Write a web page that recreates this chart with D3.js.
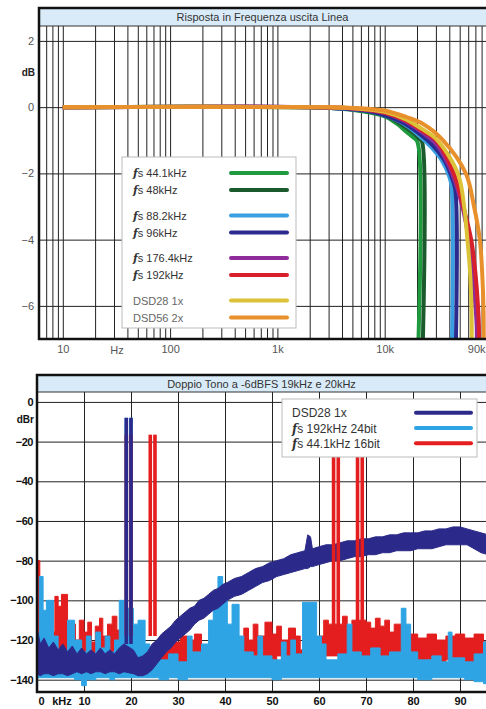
<!DOCTYPE html>
<html>
<head>
<meta charset="utf-8">
<script src="https://cdn.jsdelivr.net/npm/d3@7"></script>
<style>
  body { margin: 0; background: #fff; }
  svg text { font-family: "Liberation Sans", Arial, sans-serif; }
</style>
</head>
<body>
<div id="chart"></div>
<script>
// ---------------- data : frequency response (Hz, dB) ----------------
const fs441  = [[10,0],[2000,0],[3500,-0.03],[6000,-0.12],[10000,-0.28],[13000,-0.5],[16000,-0.75],[18500,-0.92],[20200,-1.05],[20200,-8]];
const fs48   = [[10,0],[2000,0],[3500,-0.03],[6000,-0.1],[10000,-0.25],[14000,-0.5],[18000,-0.75],[21000,-0.95],[22300,-1.05],[22300,-8]];
const fs882  = [[10,0],[2000,0],[4000,-0.04],[7000,-0.12],[10000,-0.25],[15000,-0.5],[20000,-0.8],[27000,-1.2],[34000,-1.6],[40000,-2.1],[42000,-2.4],[42000,-8]];
const fs96   = [[10,0],[2000,0],[4000,-0.04],[7000,-0.12],[10000,-0.25],[15000,-0.48],[20000,-0.75],[28000,-1.15],[36000,-1.6],[42000,-2.1],[45500,-2.5],[45500,-8]];
const fs1764 = [[10,0],[2500,0],[5000,-0.04],[10000,-0.18],[16000,-0.45],[22000,-0.75],[30000,-1.1],[40000,-1.8],[50000,-2.7],[58000,-3.6],[65000,-4.8],[70000,-6],[72000,-6.6],[72000,-8]];
const fs192  = [[10,0],[2500,0],[5000,-0.04],[10000,-0.17],[16000,-0.42],[22000,-0.7],[30000,-1.0],[44000,-2],[54000,-3],[64000,-4],[70000,-5],[74000,-6],[75500,-6.6],[75500,-8]];
const dsd28  = [[10,0],[2500,0],[5000,-0.03],[10000,-0.14],[16000,-0.38],[22000,-0.65],[30000,-0.95],[48000,-2],[55000,-3],[59000,-4],[62500,-5],[64500,-6.2],[64500,-8]];
const dsd56  = [[10,0],[3000,0],[6000,-0.03],[10000,-0.1],[16000,-0.3],[22600,-0.5],[35000,-1],[57000,-2],[68000,-3],[77000,-4],[81000,-5],[83500,-6.2],[83500,-8]];

const topSeries = [fs441, fs48, fs882, fs96, fs1764, fs192, dsd28, dsd56];
const topLabels = ["44.1kHz", "48kHz", "88.2kHz", "96kHz", "176.4kHz", "192kHz", "DSD28  1x", "DSD56  2x"];
const topColors = ["#1f9a3e", "#1b5a2c", "#3a9fe0", "#2b2b8e", "#8e2c9c", "#d8202c", "#dcc236", "#e8902c"];

const topYTicks = [2, 0, -2, -4, -6];
const topXTicks = [10, 100, 1000, 10000, 90000];
const topXLabels = ["10", "100", "1k", "10k", "90k"];

// ---------------- data : two tone spectrum (kHz, dB top, dB bottom) ----------------
const redBand = [[0,-80,-128],[0.6,-112,-128],[1.2,-118,-130],[2,-122,-132],[3,-116,-130],[3.8,-98,-128],[4.5,-103,-128],[5.2,-97,-128],[6.5,-118,-130],
  [7.5,-112,-130],[8.2,-120,-132],[9,-110,-130],[10,-116,-130],[10.8,-111,-128],[11.6,-121,-130],[12.4,-113,-130],[13.3,-109,-128],[14,-118,-130],
  [15,-112,-130],[16,-108,-128],[17,-115,-130],[18,-121,-132],[19,-125,-134],[23,-124,-134],[25.6,-122,-132],[26.5,-124,-134],[27.5,-117,-132],
  [29,-121,-134],[30.5,-118,-132],[32,-120,-134],[33.5,-117,-132],[35,-124,-134],[37,-128,-134],[40,-122,-134],[42,-126,-134],[44,-114,-130],
  [45,-120,-130],[46,-112,-130],[47,-118,-130],[48.5,-111,-128],[50,-117,-130],[51,-113,-128],[52,-120,-130],[53.5,-114,-128],[55,-118,-130],
  [56,-125,-132],[60,-118,-130],[61,-110,-128],[62,-112,-128],[65,-108,-128],[66,-115,-130],[67,-110,-128],[70,-111,-128],[71,-114,-130],
  [72,-109,-128],[73,-113,-130],[74,-110,-128],[75,-116,-130],[76,-112,-128],[77.5,-120,-132],[79.5,-117,-130],[81,-119,-132],[83,-117,-130],
  [85,-120,-132],[87,-118,-130],[89,-117,-130],[91,-119,-132],[93,-117,-130],[95,-121,-132],[96,-121,-132]];

const blueBand = [[0,-118,-139],[0.5,-88,-139],[1.3,-105,-139],[2,-100,-139],[3.5,-118,-139],[4.5,-128,-139],[6.5,-110,-139],[8,-120,-140],
  [9.5,-126,-143],[10.5,-118,-140],[11.5,-127,-140],[12.5,-116,-139],[13.5,-124,-139],[14.5,-118,-139],[15.5,-126,-140],[16.5,-120,-139],
  [17.5,-100,-139],[19,-104,-139],[20.5,-112,-139],[21.5,-110,-139],[23,-122,-139],[24,-128,-139],[26,-130,-140],[28,-127,-139],[30,-131,-140],
  [32,-118,-139],[33,-126,-139],[35,-122,-139],[36.5,-110,-139],[37.5,-100,-139],[38.5,-88,-139],[39.5,-98,-139],[40.5,-112,-139],[41.5,-102,-139],
  [43,-118,-139],[44,-126,-139],[46,-128,-139],[47,-118,-139],[48,-128,-139],[50,-130,-140],[52,-121,-139],[53,-128,-139],[54,-120,-139],
  [55,-127,-139],[56.5,-101,-139],[59.5,-118,-139],[60.5,-122,-139],[61.5,-130,-139],[64,-127,-139],[66,-112,-139],[67,-126,-139],[69,-128,-139],
  [71,-124,-139],[73,-128,-139],[75,-126,-139],[77.5,-104,-139],[78.5,-112,-139],[79.5,-126,-139],[81,-130,-140],[84,-128,-139],[86,-131,-139],
  [87.5,-116,-139],[88.3,-129,-139],[91,-131,-140],[93,-127,-141],[95,-121,-142],[96,-121,-142]];

const navyBand = [[0,-114,-137],[0.7,-122,-138],[1.5,-119,-137],[2.5,-124,-137],[3.5,-121,-138],[4.5,-125,-137],[5.5,-122,-137],[6.5,-126,-138],
  [7.5,-123,-137],[8.5,-127,-136],[9.5,-124,-137],[10.5,-127,-136],[11.5,-125,-137],[12.5,-127,-136],[13.5,-124,-136],[14.5,-127,-137],
  [15.5,-125,-136],[16.5,-127,-136],[17.5,-124,-137],[18.5,-122,-136],[20.5,-125,-137],[21.5,-129,-138],[22.5,-128,-138],[23.5,-126,-137],
  [24.5,-122,-135],[25.5,-120,-132],[26.5,-117,-129],[27.5,-115,-126],[28.5,-113,-124],[29.5,-110,-121],[30.5,-108,-119],[31.5,-106,-117],
  [32.5,-104,-115],[33.5,-103,-112],[34.5,-100,-110],[35.5,-99,-109],[36.5,-97,-107],[37.5,-95,-105],[38.5,-94,-104],[39.5,-92,-102],
  [40.5,-91,-100],[42,-89,-98],[43.5,-88,-97],[45,-86,-95],[46.5,-84,-93],[48,-83,-91],[49.5,-81,-90],[51,-80,-88],[52.5,-79,-87],[54,-77,-86],
  [55.5,-76,-85],[57,-75,-84],[57.6,-67,-84],[58.2,-68,-83],[58.6,-74,-83],[60,-73,-82],[61.5,-72,-81],[63,-72,-80],[64.5,-71,-80],[66,-70,-79],
  [67.5,-70,-78],[69,-69,-78],[70.5,-69,-77],[72,-68,-77],[73.5,-68,-76],[75,-67,-76],[76.5,-67,-75],[78,-66,-75],[79.5,-66,-75],[81,-66,-74],
  [82.5,-65,-74],[84,-65,-74],[85.5,-64,-73],[87,-64,-72],[88.5,-63,-72],[90,-63,-72],[91.5,-64,-72],[93,-65,-74],[94.5,-66,-76],[96,-67,-77]];

// tones and their images (kHz, dB)
const navyTones = [[19,-8],[20,-8]];
const blueTones = [[19,-8],[20,-8]];
const redTones  = [[19,-16.5],[20,-16.5],[24.1,-16.5],[25.1,-16.5],[63.1,-16.5],[64.1,-16.5],[68.2,-16.5],[69.2,-16.5]];

const botLabels = ["DSD28 1x", "192kHz 24bit", "44.1kHz 16bit"];
const botColors = ["#2b2a8a", "#2fa4e4", "#e41e1e"];
const botYTicks = [0, -20, -40, -60, -80, -100, -120, -140];
const botXTicks = [0, 10, 20, 30, 40, 50, 60, 70, 80, 90];

// ---------------- svg ----------------
const svg = d3.select("#chart").append("svg")
  .attr("width", 486).attr("height", 709);

// "fs" prefix : italic f + s
function fsText(sel, label) {
  if (label.startsWith("DSD")) { sel.text(label); return; }
  sel.append("tspan").attr("font-family", "DejaVu Serif").attr("font-style", "italic")
    .attr("font-weight", "bold").text("f");
  sel.append("tspan").text("s " + label);
}

function frame(g, x0, x1, y0, yTitle, y1, title) {
  g.append("rect").attr("x", x0).attr("y", y0).attr("width", x1 - x0).attr("height", yTitle - y0)
    .attr("fill", "#d9ebf8");
  g.append("line").attr("x1", x0).attr("x2", x1).attr("y1", yTitle).attr("y2", yTitle)
    .attr("stroke", "#333").attr("stroke-width", 1);
  g.append("text").attr("x", (x0 + 486) / 2).attr("y", (y0 + yTitle) / 2 + 4)
    .attr("text-anchor", "middle").attr("font-size", 11).attr("fill", "#333").text(title);
  g.append("rect").attr("x", x0).attr("y", y0).attr("width", x1 - x0).attr("height", y1 - y0)
    .attr("fill", "none").attr("stroke", "#111").attr("stroke-width", 2.5);
}

//-------------------------------------------------------------------
// top chart : Risposta in Frequenza
const pA = {left: 39, right: 492, title: 8, top: 26, bottom: 339};
const xA = d3.scaleLog().domain([6, 100000]).range([pA.left, pA.right]);
const yA = d3.scaleLinear().domain([-7, 2.45]).range([pA.bottom, pA.top]);

const gA = svg.append("g");
gA.append("clipPath").attr("id", "clipA").append("rect")
  .attr("x", pA.left).attr("y", pA.top).attr("width", pA.right - pA.left).attr("height", pA.bottom - pA.top);

// grid 1-2-3..9 per decade
const gridFreqs = [];
[1, 10, 100, 1000, 10000].forEach(d => d3.range(1, 10).forEach(m => {
  if (m * d >= 6) gridFreqs.push(m * d);
}));
gridFreqs.push(100000);

gA.append("g")
  .attr("transform", "translate(0," + pA.bottom + ")")
  .call(d3.axisBottom(xA).tickValues(gridFreqs).tickSize(-(pA.bottom - pA.top)).tickFormat(""))
  .call(g => g.select(".domain").remove())
  .call(g => g.selectAll("line").attr("stroke", "#222").attr("stroke-width", 1));

gA.append("g")
  .attr("transform", "translate(" + pA.left + ",0)")
  .call(d3.axisLeft(yA).tickValues(topYTicks).tickSize(-(pA.right - pA.left)).tickPadding(5))
  .call(g => g.select(".domain").remove())
  .call(g => g.selectAll("line").attr("stroke", "#222").attr("stroke-width", 1))
  .call(g => g.selectAll("text").attr("font-size", 11).attr("fill", "#555").attr("font-family", "Liberation Sans"));

gA.append("text").attr("x", 35).attr("y", 76).attr("text-anchor", "end")
  .attr("font-size", 10).attr("font-weight", "bold").attr("fill", "#222").text("dB");

// x labels (last one pulled inside the window)
gA.append("g")
  .attr("transform", "translate(0," + pA.bottom + ")")
  .call(d3.axisBottom(xA).tickValues(topXTicks).tickSize(0).tickPadding(6)
    .tickFormat((d, i) => topXLabels[i]))
  .call(g => g.select(".domain").remove())
  .call(g => g.selectAll("text").attr("font-size", 11).attr("fill", "#555").attr("font-family", "Liberation Sans")
    .attr("text-anchor", d => d === 90000 ? "end" : "middle")
    .attr("dx", d => d === 90000 ? 485 - xA(90000) : 0));
gA.append("text").attr("x", xA(32)).attr("y", pA.bottom + 15).attr("text-anchor", "middle")
  .attr("font-size", 11).attr("fill", "#555").text("Hz");

// response curves
const lineA = d3.line().x(d => xA(d[0])).y(d => yA(d[1])).curve(d3.curveCatmullRom.alpha(0.5));
gA.append("g").attr("clip-path", "url(#clipA)")
  .selectAll("path").data(topSeries).enter().append("path")
    .attr("fill", "none")
    .attr("stroke", (d, i) => topColors[i])
    .attr("stroke-width", 4)
    .attr("d", lineA);

// legend
const legA = gA.append("g");
legA.append("rect").attr("x", 122).attr("y", 157).attr("width", 174).attr("height", 171)
  .attr("fill", "#fff").attr("stroke", "#bbb");
topLabels.forEach((lab, i) => {
  const y = 173 + i * 17 + Math.floor(i / 2) * 8.5;
  fsText(legA.append("text").attr("x", 133).attr("y", y + 4).attr("font-size", 11)
    .attr("fill", lab.startsWith("DSD") ? "#666" : "#333"), lab);
  legA.append("line").attr("x1", 231).attr("x2", 287).attr("y1", y).attr("y2", y)
    .attr("stroke", topColors[i]).attr("stroke-width", 4).attr("stroke-linecap", "round");
});

frame(gA, pA.left, 500, pA.title, pA.top, pA.bottom, "Risposta in Frequenza uscita Linea");

//-------------------------------------------------------------------
// bottom chart : Doppio Tono
const pB = {left: 37, right: 489, title: 375, top: 392, bottom: 692};
const xB = d3.scaleLinear().domain([0, 96]).range([pB.left, pB.left + 96 * 4.7]);
const yB = d3.scaleLinear().domain([-146.2, 5]).range([pB.bottom, pB.top]);

const gB = svg.append("g");
gB.append("clipPath").attr("id", "clipB").append("rect")
  .attr("x", pB.left).attr("y", pB.top).attr("width", pB.right - pB.left).attr("height", pB.bottom - pB.top);

gB.append("g")
  .attr("transform", "translate(0," + pB.bottom + ")")
  .call(d3.axisBottom(xB).tickValues(botXTicks).tickSize(-(pB.bottom - pB.top)).tickPadding(5))
  .call(g => g.select(".domain").remove())
  .call(g => g.selectAll("line").attr("stroke", "#222"))
  .call(g => g.selectAll("text").attr("font-size", 11).attr("font-weight", "bold").attr("fill", "#111")
    .attr("font-family", "Liberation Sans").attr("dx", d => d === 0 ? 4 : 0));
gB.append("text").attr("x", xB(5.3)).attr("y", pB.bottom + 13).attr("text-anchor", "middle")
  .attr("font-size", 11).attr("font-weight", "bold").attr("fill", "#111").text("kHz");

gB.append("g")
  .attr("transform", "translate(" + pB.left + ",0)")
  .call(d3.axisLeft(yB).tickValues(botYTicks).tickSize(-(pB.right - pB.left)).tickPadding(4))
  .call(g => g.select(".domain").remove())
  .call(g => g.selectAll("line").attr("stroke", "#222"))
  .call(g => g.selectAll("text").attr("font-size", 11).attr("font-weight", "bold").attr("fill", "#111")
    .attr("font-family", "Liberation Sans").attr("letter-spacing", -0.5));
gB.append("text").attr("x", 34).attr("y", 423).attr("text-anchor", "end")
  .attr("font-size", 10).attr("font-weight", "bold").attr("fill", "#111").text("dBr");

const plotB = gB.append("g").attr("clip-path", "url(#clipB)");

function band(data, color, curve) {
  plotB.append("path").datum(data)
    .attr("fill", color).attr("stroke", color).attr("stroke-width", 1)
    .attr("d", d3.area().x(d => xB(d[0])).y0(d => yB(d[2])).y1(d => yB(d[1])).curve(curve));
}
function tones(data, color, floor) {
  plotB.append("g").selectAll("rect").data(data).enter().append("rect")
    .attr("x", d => xB(d[0]) - 1.8).attr("width", 3.6)
    .attr("y", d => yB(d[1])).attr("height", d => yB(floor) - yB(d[1]))
    .attr("fill", color);
}

band(redBand, botColors[2], d3.curveStepAfter);
band(blueBand, botColors[1], d3.curveStepAfter);
tones(blueTones, botColors[1], -125);
band(navyBand, botColors[0], d3.curveLinear);
tones(redTones, botColors[2], -118);
tones(navyTones, botColors[0], -122);

// legend
const legB = gB.append("g");
legB.append("rect").attr("x", 282).attr("y", 399).attr("width", 195).attr("height", 58)
  .attr("fill", "#fff").attr("stroke", "#bbb");
botLabels.forEach((lab, i) => {
  const y = 412.7 + i * 15.3;
  fsText(legB.append("text").attr("x", 292).attr("y", y + 4.5).attr("font-size", 12).attr("fill", "#333"), lab);
  legB.append("line").attr("x1", 416).attr("x2", 471).attr("y1", y).attr("y2", y)
    .attr("stroke", botColors[i]).attr("stroke-width", 4).attr("stroke-linecap", "round");
});

frame(gB, pB.left, 500, pB.title, pB.top, pB.bottom, "Doppio Tono a -6dBFS 19kHz e 20kHz");
</script>
</body>
</html>
